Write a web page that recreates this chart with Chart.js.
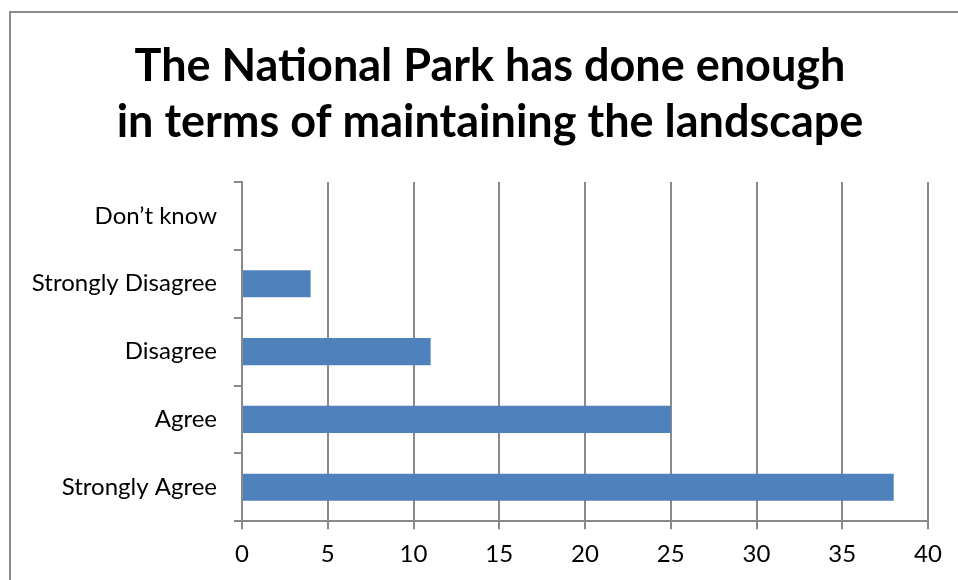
<!DOCTYPE html>
<html>
<head>
<meta charset="utf-8">
<script src="https://cdn.jsdelivr.net/npm/chart.js@4/dist/chart.umd.min.js"></script>
<style>
  html, body { margin: 0; padding: 0; background: #fff; overflow: hidden; }
  #wrap { position: relative; width: 958px; height: 580px; }
  #frame {
    position: absolute; left: 9px; top: 11px; width: 980px; height: 600px;
    border-left: 2px solid #8c8c8c; border-top: 2px solid #8c8c8c;
    box-sizing: border-box; pointer-events: none;
  }
  canvas { position: absolute; left: 0; top: 0; }
</style>
</head>
<body>
<div id="wrap">
  <div id="frame"></div>
  <canvas id="c" width="958" height="580"></canvas>
</div>
<script>
// Survey responses, listed top to bottom as shown on the chart
const categories = ["Don\u2019t know", "Strongly Disagree", "Disagree", "Agree", "Strongly Agree"];
const responses = [0, 4, 11, 25, 38];
const titleLines = ["The National Park has done enough", "in terms of maintaining the landscape"];

const FONT = "Lato, 'Open Sans', 'Liberation Sans', sans-serif";
const GRID = "#8a8a8a";

// Two-line heading centred over the frame, drawn above the plot area
const headingPlugin = {
  id: "heading",
  afterDraw(chart) {
    const ctx = chart.ctx;
    ctx.save();
    ctx.fillStyle = "#000";
    ctx.font = "bold 45px " + FONT;
    ctx.textAlign = "center";
    ctx.textBaseline = "middle";
    titleLines.forEach((line, i) => ctx.fillText(line, 490, 66 + i * 56));
    ctx.restore();
  }
};

new Chart(document.getElementById("c"), {
  type: "bar",
  data: {
    labels: categories,
    datasets: [{
      data: responses,
      backgroundColor: "#4f81bd",
      borderWidth: 0,
      barPercentage: 0.4,
      categoryPercentage: 1.0
    }]
  },
  plugins: [headingPlugin],
  options: {
    indexAxis: "y",
    responsive: false,
    animation: false,
    layout: { padding: { top: 182, left: 20, right: 30, bottom: 0 } },
    plugins: {
      legend: { display: false },
      tooltip: { enabled: false },
      title: { display: false }
    },
    scales: {
      x: {
        min: 0, max: 40,
        ticks: { stepSize: 5, color: "#000", font: { family: FONT, size: 24 }, padding: 11 },
        grid: { color: GRID, lineWidth: 2, tickLength: 8, drawTicks: true },
        border: { display: true, color: GRID, width: 2 }
      },
      y: {
        afterFit: (scale) => { scale.width = 222; },
        ticks: { color: "#000", font: { family: FONT, size: 24 }, padding: 17 },
        grid: { color: GRID, lineWidth: 2, tickLength: 8, drawOnChartArea: false, offset: true },
        border: { display: true, color: GRID, width: 2 }
      }
    }
  }
});
</script>
</body>
</html>
